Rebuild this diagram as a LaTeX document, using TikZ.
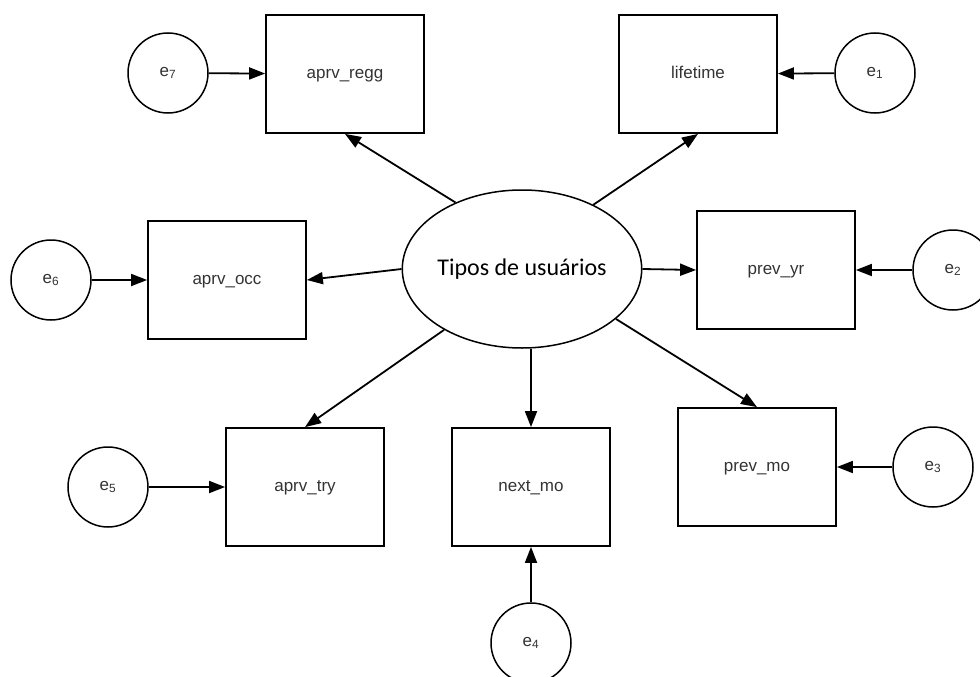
\documentclass[tikz,border=0pt]{standalone}
\usepackage{fontspec}
\setmainfont{Liberation Sans}
\newfontfamily\calibri{Carlito}
\usetikzlibrary{shapes.geometric,arrows.meta}

\begin{document}
\begin{tikzpicture}[x=1pt, y=-1pt, >={Triangle[length=16pt,width=12pt]},
    var/.style={draw, line width=1.8pt, minimum width=158pt, minimum height=118pt,
        inner sep=0pt, text height=12pt, text depth=4pt, text=black!80,
        font=\fontsize{17}{20}\selectfont},
    err/.style={draw, circle, line width=1.5pt, minimum size=80pt, inner sep=0pt,
        text=black!80, font=\fontsize{17}{20}\selectfont},
    lat/.style={draw, ellipse, line width=1.5pt, minimum width=236pt, minimum height=158pt,
        inner sep=0pt, font=\calibri\fontsize{24}{28}\selectfont},
    link/.style={->, line width=1.8pt}]

        \useasboundingbox (0,0) rectangle (980,677);

        % ==== LATENT ====
        \node[lat] (tipos) at (522,269) {Tipos de usuários};

        % ==== OBSERVED ====
        \node[var] (regg) at (345,74) {aprv\_regg};
        \node[var] (life) at (698,74) {lifetime};
        \node[var] (occ) at (227,280) {aprv\_occ};
        \node[var] (yr) at (776,270) {prev\_yr};
        \node[var] (try) at (305,487) {aprv\_try};
        \node[var] (nmo) at (531,487) {next\_mo};
        \node[var] (pmo) at (757,467) {prev\_mo};

        % ==== ERRORS ====
        \node[err] (e7) at (168,73) {e\textsubscript{7}};
        \node[err] (e1) at (875,73) {e\textsubscript{1}};
        \node[err] (e6) at (51,280) {e\textsubscript{6}};
        \node[err] (e2) at (953,270) {e\textsubscript{2}};
        \node[err] (e5) at (108,487) {e\textsubscript{5}};
        \node[err] (e3) at (933,467) {e\textsubscript{3}};
        \node[err] (e4) at (531,643) {e\textsubscript{4}};

        % ==== LOADINGS ====
        \draw[link] (tipos.135) -- (regg.south);
        \draw[link] (tipos.42) -- (life.south);
        \draw[link] (tipos.west) -- (occ.east);
        \draw[link] (tipos.east) -- (yr.west);
        \draw[link] (tipos.-142) -- (try.north);
        \draw[link] (nmo.north |- tipos.south) -- (nmo.north);
        \draw[link] (tipos.-28) -- (pmo.north);

        % ==== ERROR PATHS ====
        \draw[link] (e7) -- (regg);
        \draw[link] (e1) -- (life);
        \draw[link] (e6) -- (occ);
        \draw[link] (e2) -- (yr);
        \draw[link] (e5) -- (try);
        \draw[link] (e3) -- (pmo);
        \draw[link] (e4) -- (nmo);

    \end{tikzpicture}
\end{document}
